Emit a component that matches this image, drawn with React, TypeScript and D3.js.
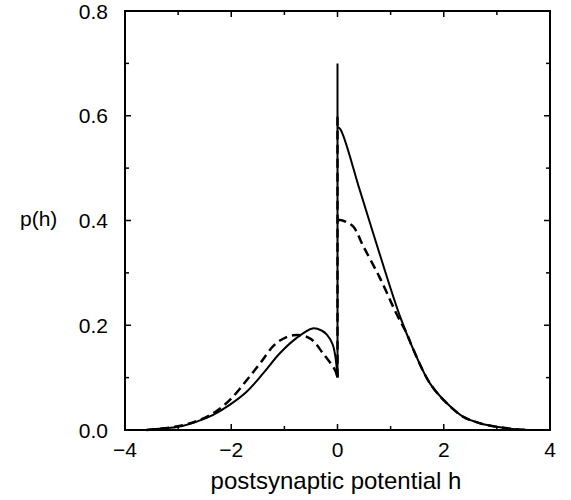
import React, { useEffect, useRef } from 'react';
import * as d3 from 'd3';

// p(h), split at the discontinuity at h = 0
const solidLeft: [number, number][] = [
  [-3.6, 0.0], [-3.3, 0.003], [-3.0, 0.006], [-2.65, 0.016], [-2.34, 0.029],
  [-2.03, 0.048], [-1.71, 0.073], [-1.4, 0.108], [-1.09, 0.146], [-0.78, 0.175],
  [-0.47, 0.194], [-0.3, 0.19], [-0.2, 0.182], [-0.09, 0.163], [-0.04, 0.14], [0, 0.101],
];
const solidRight: [number, number][] = [
  [0, 0.578], [0.05, 0.575], [0.42, 0.458], [0.8, 0.334], [1.18, 0.216],
  [1.43, 0.153], [1.74, 0.089], [2.06, 0.051], [2.37, 0.025], [2.68, 0.013],
  [3.0, 0.006], [3.4, 0.001], [3.6, 0.0],
];
const dashedLeft: [number, number][] = [
  [-3.6, 0.0], [-3.3, 0.003], [-3.0, 0.007], [-2.65, 0.017], [-2.34, 0.032],
  [-2.03, 0.057], [-1.71, 0.095], [-1.46, 0.127], [-1.15, 0.166], [-0.83, 0.181],
  [-0.52, 0.175], [-0.27, 0.146], [-0.05, 0.115], [0, 0.1],
];
const dashedRight: [number, number][] = [
  [0, 0.4], [0.05, 0.401], [0.15, 0.398], [0.3, 0.388], [0.49, 0.35],
  [0.8, 0.29], [1.11, 0.222], [1.3, 0.185], [1.43, 0.153], [1.74, 0.089],
  [2.06, 0.051], [2.37, 0.025], [2.68, 0.013], [3.0, 0.006], [3.4, 0.001], [3.6, 0.0],
];
// vertical jumps at h = 0
const solidSpike: [number, number][] = [[0, 0.101], [0, 0.7]];
const dashedSpike: [number, number][] = [[0, 0.1], [0, 0.6]];

const xMajor = [-4, -2, 0, 2, 4];
const xMinor = [-3, -1, 1, 3];
const yMajor = [0, 0.2, 0.4, 0.6, 0.8];
const yMinor = [0.1, 0.3, 0.5, 0.7];

const W = 571;
const H = 500;
const FONT = '"Liberation Sans", Arial, Helvetica, sans-serif';

export default function App() {
  const svgRef = useRef<SVGSVGElement | null>(null);

  useEffect(() => {
    if (!svgRef.current) return;
    const svg = d3.select(svgRef.current);
    svg.selectAll('*').remove();

    const x = d3.scaleLinear().domain([-4, 4]).range([125, 550]);
    const y = d3.scaleLinear().domain([0, 0.8]).range([430, 11]);

    const curve = d3.line<[number, number]>()
      .x(d => x(d[0]))
      .y(d => y(d[1]))
      .curve(d3.curveCatmullRom.alpha(0.5));
    const straight = d3.line<[number, number]>()
      .x(d => x(d[0]))
      .y(d => y(d[1]));

    const draw = (data: [number, number][], gen: any, dashed: boolean) => {
      svg.append('path')
        .datum(data)
        .attr('fill', 'none')
        .attr('stroke', '#000')
        .attr('stroke-width', dashed ? 2.5 : 2)
        .attr('stroke-dasharray', dashed ? '9,5' : null)
        .attr('d', gen);
    };

    draw(dashedLeft, curve, true);
    draw(dashedRight, curve, true);
    draw(dashedSpike, straight, true);
    draw(solidLeft, curve, false);
    draw(solidRight, curve, false);
    draw(solidSpike, straight, false);

    // ticks on all four sides, pointing inward
    const tickG = svg.append('g').attr('stroke', '#000').attr('stroke-width', 1.5);
    const xt = [...xMajor.map(v => [v, 6]), ...xMinor.map(v => [v, 4])];
    xt.forEach(([v, len]) => {
      tickG.append('line').attr('x1', x(v)).attr('x2', x(v)).attr('y1', y(0)).attr('y2', y(0) - len);
      tickG.append('line').attr('x1', x(v)).attr('x2', x(v)).attr('y1', y(0.8)).attr('y2', y(0.8) + len);
    });
    const yt = [...yMajor.map(v => [v, 6]), ...yMinor.map(v => [v, 4])];
    yt.forEach(([v, len]) => {
      tickG.append('line').attr('y1', y(v)).attr('y2', y(v)).attr('x1', x(-4)).attr('x2', x(-4) + len);
      tickG.append('line').attr('y1', y(v)).attr('y2', y(v)).attr('x1', x(4)).attr('x2', x(4) - len);
    });

    // frame
    svg.append('rect')
      .attr('x', x(-4)).attr('y', y(0.8))
      .attr('width', x(4) - x(-4)).attr('height', y(0) - y(0.8))
      .attr('fill', 'none').attr('stroke', '#000').attr('stroke-width', 2);

    const fmtX = (v: number) => (v < 0 ? '\u2212' + Math.abs(v) : String(v));
    svg.append('g').selectAll('text').data(xMajor).join('text')
      .attr('x', d => x(d)).attr('y', 457)
      .attr('text-anchor', 'middle')
      .attr('font-family', FONT).attr('font-size', 21)
      .text(d => fmtX(d));

    svg.append('g').selectAll('text').data(yMajor).join('text')
      .attr('x', 108).attr('y', d => y(d) + 7.5)
      .attr('text-anchor', 'end')
      .attr('font-family', FONT).attr('font-size', 21)
      .text(d => d.toFixed(1));

    svg.append('text')
      .attr('x', 336).attr('y', 489)
      .attr('text-anchor', 'middle')
      .attr('font-family', FONT).attr('font-size', 24)
      .text('postsynaptic potential h');

    svg.append('text')
      .attr('x', 20).attr('y', 226)
      .attr('font-family', FONT).attr('font-size', 21)
      .text('p(h)');
  }, []);

  return (
    <svg
      ref={svgRef}
      width={W}
      height={H}
      style={{ position: 'absolute', left: 0, top: 0, background: '#fff' }}
    />
  );
}
